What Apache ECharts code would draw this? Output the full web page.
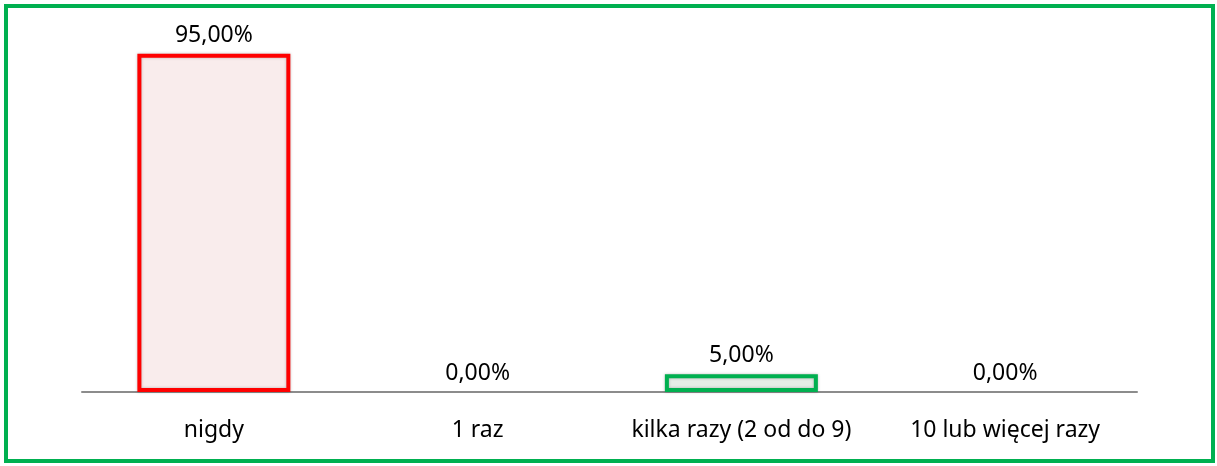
<!DOCTYPE html>
<html>
<head>
<meta charset="utf-8">
<script src="https://cdn.jsdelivr.net/npm/echarts@6/dist/echarts.min.js"></script>
<style>
  html, body { margin: 0; padding: 0; background: #fff; }
  #main { width: 1217px; height: 466px; }
</style>
</head>
<body>
<div id="main"></div>
<script>
// dane z wykresu
var categories = ['nigdy', '1 raz', 'kilka razy (2 od do 9)', '10 lub więcej razy'];
var values = [95, 0, 5, 0];

var borderColors = ['#FF0000', '#FF0000', '#00B050', '#00B050'];
var fillColors = ['#F9ECEC', '#F9ECEC', '#E5EDE7', '#E5EDE7'];

var myChart = echarts.init(document.getElementById('main'));

var option = {
    animation: false,
    grid: { left: 82, right: 80, top: 36, bottom: 74 },
    graphic: [{
        type: 'rect',
        shape: { x: 6, y: 6, width: 1207, height: 455 },
        style: { fill: 'none', stroke: '#00B050', lineWidth: 4 },
        silent: true
    }],
    xAxis: {
        type: 'category',
        data: categories,
        axisTick: { show: false },
        axisLine: { lineStyle: { color: '#8C8C8C', width: 2 } },
        axisLabel: {
            interval: 0,
            hideOverlap: false,
            color: '#000',
            fontFamily: 'Noto Sans',
            fontSize: 23,
            margin: 27
        }
    },
    yAxis: {
        type: 'value',
        min: 0,
        max: 100,
        show: false
    },
    series: [{
        type: 'bar',
        barWidth: '58%',
        data: values.map(function (v, i) {
            return {
                value: v,
                itemStyle: {
                    color: fillColors[i],
                    borderColor: borderColors[i],
                    borderWidth: v > 0 ? 4 : 0,
                    shadowColor: 'rgba(0,0,0,0.25)',
                    shadowBlur: v > 0 ? 3 : 0
                }
            };
        }),
        label: {
            show: true,
            position: 'top',
            distance: 7,
            color: '#000',
            fontFamily: 'Noto Sans',
            fontSize: 23,
            formatter: function (p) {
                return p.value.toFixed(2).replace('.', ',') + '%';
            }
        }
    }]
};

myChart.setOption(option);
</script>
</body>
</html>
